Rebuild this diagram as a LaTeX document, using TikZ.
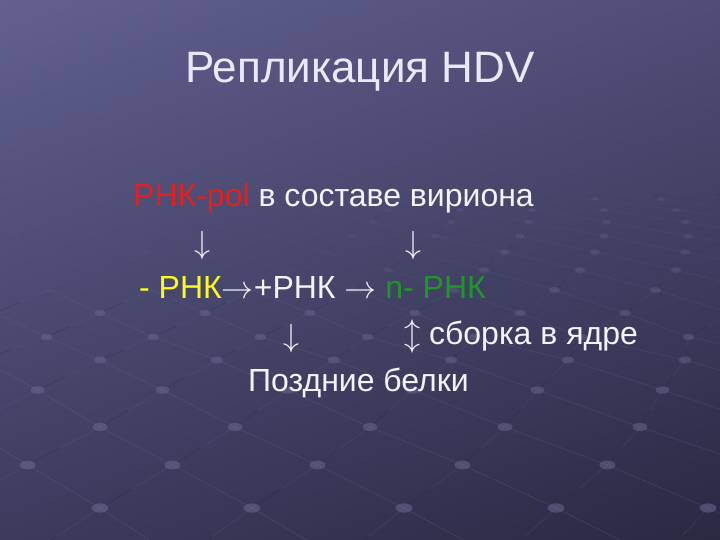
\RequirePackage{fix-cm}
\documentclass[tikz,border=0pt]{standalone}
\usepackage{fontspec}
\setmainfont{Liberation Sans}
\usetikzlibrary{calc}
\definecolor{bgtop}{RGB}{98,97,145}
\definecolor{bgbot}{RGB}{40,40,66}
\definecolor{txtred}{RGB}{225,32,32}
\definecolor{txtyel}{RGB}{250,250,30}
\definecolor{txtgrn}{RGB}{30,150,40}
\definecolor{txtwht}{RGB}{242,242,248}
\definecolor{titlec}{RGB}{232,232,246}
\definecolor{dotc}{RGB}{128,128,170}
\definecolor{lnlight}{RGB}{150,150,195}
\definecolor{lndark}{RGB}{18,18,32}
\begin{document}
\begin{tikzpicture}[x=1pt,y=-1pt,
  txt/.style={inner sep=0pt, text=txtwht, font=\fontsize{32}{38}\selectfont, anchor=base west},
  arr/.style={txt, anchor=base},
  lightline/.style={draw=lnlight, line width=0.7pt},
  darkline/.style={draw=lndark, line width=0.9pt},
  netdot/.style={fill=dotc}]
\useasboundingbox (0,0) rectangle (720,540);
\shade[top color=bgtop, bottom color=bgbot, shading angle=20] (-100,-100) rectangle (820,640);
% perspective lattice of dots and lines in the background
\def\ys{{560,508,465,427,390,360,337,313,290,270,252,236,222,210,199,189}}
\def\ws{{160,152,145,135,125,117,107,105,101,96,90,84,78,72,66,60}}
\begin{scope}
\clip (0,0) rectangle (720,540);
\foreach \i in {0,...,14}{
  \foreach \m in {-8,...,22}{
    \pgfmathsetmacro\ya{\ys[\i]}
    \pgfmathsetmacro\wa{\ws[\i]}
    \pgfmathsetmacro\yb{\ys[\i+1]}
    \pgfmathsetmacro\wb{\ws[\i+1]}
    \pgfmathsetmacro\xa{100+(\m-(\i-1)/2)*\wa}
    \pgfmathsetmacro\xb{100+(\m-\i/2)*\wb}
    \pgfmathsetmacro\xc{100+(\m+1-\i/2)*\wb}
    \pgfmathsetmacro\fx{\i<8 ? 1 : min(1,max(0.15,(\xa-250)/250))}
    \pgfmathsetmacro\op{max(0.3,1-\i*0.05)*\fx}
    \pgfmathsetmacro\rx{0.055*\wa}
    \pgfmathsetmacro\ry{0.03*\wa}
    \draw[lightline, opacity=0.16*\op] (\xa,\ya) -- (\xb,\yb);
    \draw[lightline, opacity=0.12*\op] (\xa,\ya) -- (\xc,\yb);
    \draw[darkline, opacity=0.30*\op] ($(\xa,\ya)!0.08!(\xc,\yb)$) -- ($(\xa,\ya)!0.45!(\xc,\yb)$);
    \fill[netdot, opacity=0.40*\op] (\xa,\ya) ellipse ({\rx pt} and {\ry pt});
  }
}
\end{scope}
% texts
\node[txt, anchor=base, text=titlec, font=\fontsize{44}{52}\selectfont] (title) at (360,83) {Репликация HDV};
\node[txt] (l1) at (133,207) {\textcolor{txtred}{РНК-pol} в составе вириона};
\node[arr] (a1) at (202,254) {$\downarrow$};
\node[arr] (a2) at (413,254) {$\downarrow$};
\node[txt] (l3) at (139,298) {\textcolor{txtyel}{- РНК}$\rightarrow$+РНК $\rightarrow$ \textcolor{txtgrn}{n- РНК}};
\node[arr] (a3) at (291,346) {$\downarrow$};
\node[txt] (l4) at (404,344) {$\updownarrow$ сборка в ядре};
\node[txt] (l5) at (248,391) {Поздние белки};
\end{tikzpicture}
\end{document}
